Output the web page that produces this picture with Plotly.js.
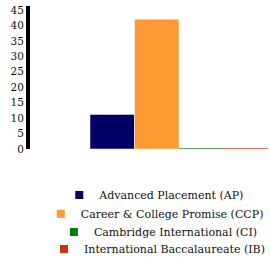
<!DOCTYPE html>
<html><head><meta charset="utf-8">
<script src="https://cdn.plot.ly/plotly-3.0.1.min.js"></script>
</head><body style="margin:0;padding:0"><div id="chart"></div>
<script>
const category = ['Programs'];
const seriesNames = ['Advanced Placement (AP)', 'Career & College Promise (CCP)', 'Cambridge International (CI)', 'International Baccalaureate (IB)'];
const apValues = [11.2];
const ccpValues = [42];
const ciValues = [0.35];
const ibValues = [0.35];
const yTicks = [0, 5, 10, 15, 20, 25, 30, 35, 40, 45];
const colors = ['#000066', '#ff9933', '#008000', '#cc3300'];
const barColors = ['#000066', '#ff9933', '#55aa55', '#e27a5a'];
const values = [apValues, ccpValues, ciValues, ibValues];
const legendIds = ['legend', 'legend2', 'legend3', 'legend4'];

const traces = [];
values.forEach((v, i) => {
  traces.push({
    type: 'bar', x: category, y: v, name: seriesNames[i],
    marker: {color: barColors[i], line: {color: i < 2 ? 'rgba(255,255,255,0.5)' : barColors[i], width: i < 2 ? 1 : 0}},
    showlegend: false, hoverinfo: 'none'
  });
});
values.forEach((v, i) => {
  traces.push({
    type: 'scatter', mode: 'markers', x: [null], y: [null], name: seriesNames[i],
    marker: {color: colors[i], symbol: 'square', size: 8},
    legend: legendIds[i], showlegend: true
  });
});

const legendY = [-0.322, -0.452, -0.58, -0.699];
const legendX = [0.52, 0.52, 0.535, 0.555];
const layout = {
  width: 270, height: 266,
  margin: {l: 30, r: 0, t: 6, b: 117},
  barmode: 'group', bargap: 0, bargroupgap: 0,
  font: {family: 'DejaVu Serif', size: 11},
  xaxis: {type: 'category', range: [-0.837, 0.511], showticklabels: false, showgrid: false, zeroline: false, showline: false, ticks: ''},
  yaxis: {range: [0, 46.3], tickvals: yTicks, showgrid: false, zeroline: false,
          showline: true, linecolor: '#000', linewidth: 4, ticks: '', tickfont: {family: 'DejaVu Serif', size: 10.5, color: '#111'}}
};
legendIds.forEach((id, i) => {
  layout[id] = {orientation: 'h', x: legendX[i], xanchor: 'center', y: legendY[i], yanchor: 'middle',
    bgcolor: 'rgba(0,0,0,0)', font: {family: 'DejaVu Serif', size: 11, color: '#111'}};
});
Plotly.newPlot('chart', traces, layout, {staticPlot: true});
</script></body></html>
